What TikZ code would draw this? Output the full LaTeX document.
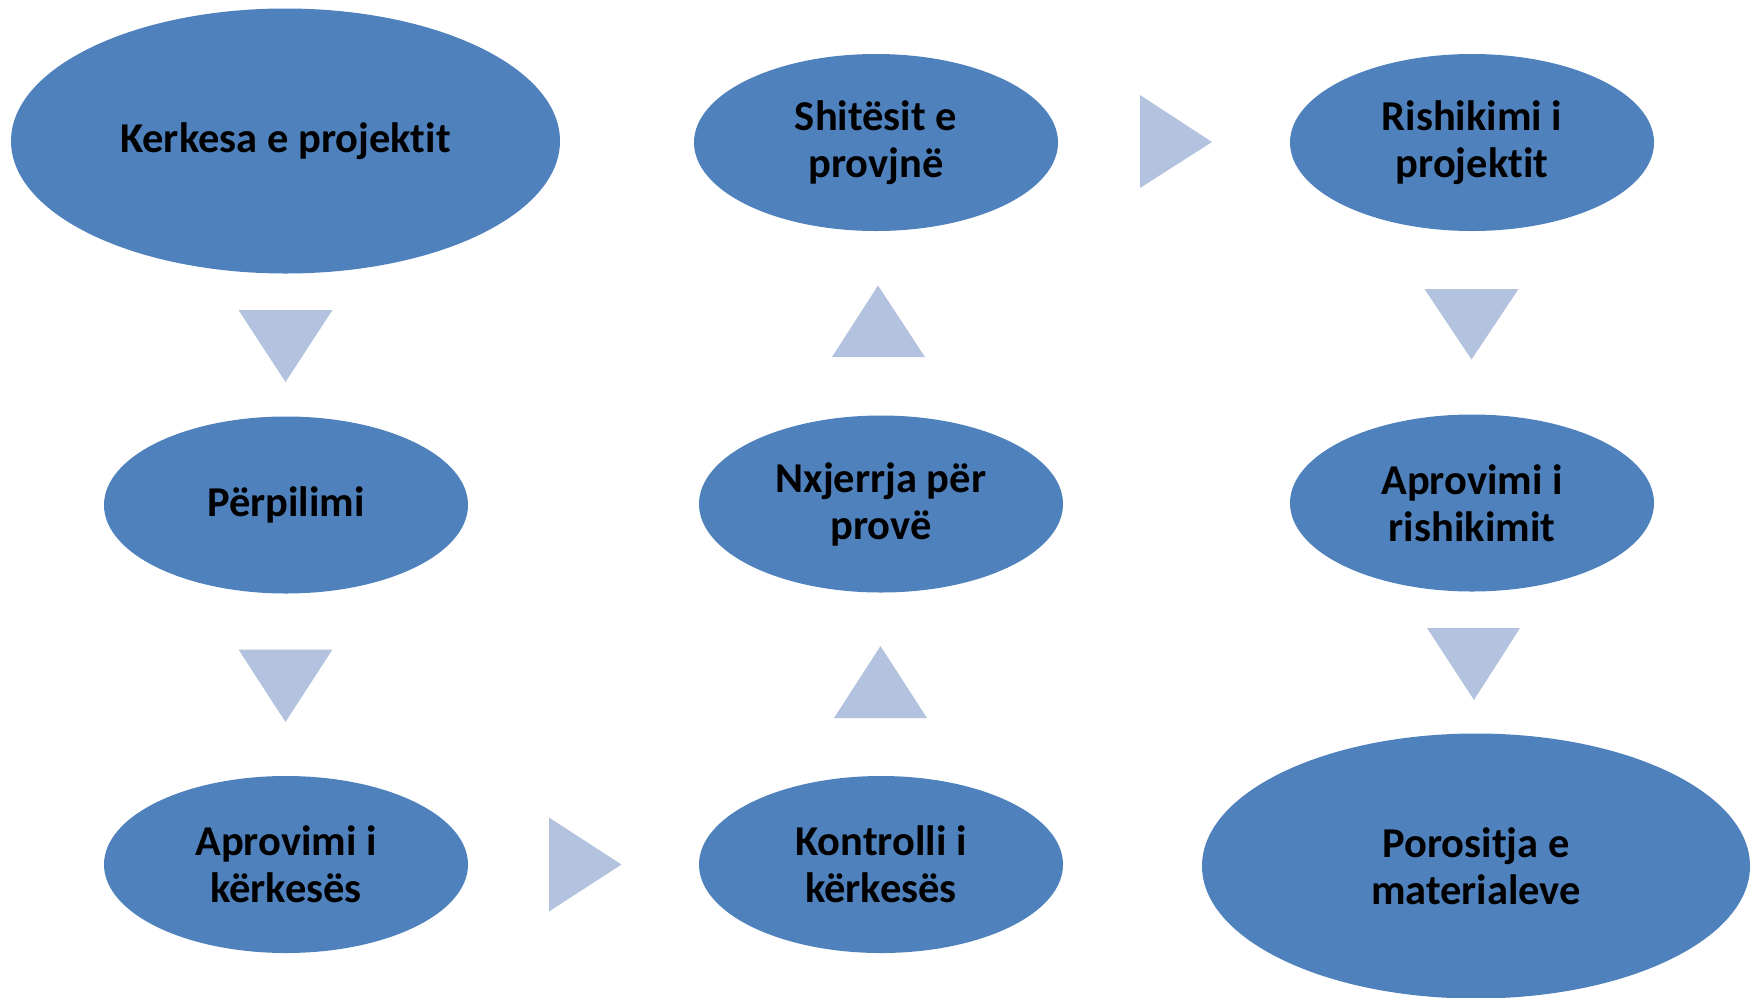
\documentclass[tikz,border=0pt]{standalone}
\usepackage{fontspec}
\setmainfont{Carlito}[Ligatures=NoCommon]
\usetikzlibrary{shapes.geometric}
\definecolor{ellblue}{RGB}{79,129,189}
\definecolor{triblue}{RGB}{179,194,222}
\begin{document}
\begin{tikzpicture}[x=1pt,y=-1pt,
  ell/.style={ellipse, fill=ellblue, inner sep=0pt, outer sep=0pt, align=center,
    font=\fontsize{42.5}{47}\selectfont\bfseries, text=black},
  tri/.style={fill=triblue}]
\useasboundingbox (0,0) rectangle (1756,997);
\begin{scope}
\clip (0,0) rectangle (1756,997);
\node[ell, minimum width=549pt, minimum height=265pt] (k) at (285.5,141) {Kerkesa e projektit};
\node[ell, minimum width=364pt, minimum height=177pt] (p) at (286,505) {Përpilimi};
\node[ell, minimum width=364pt, minimum height=177pt] (ak) at (286,864.5) {Aprovimi i\\kërkesës};
\node[ell, minimum width=364pt, minimum height=177pt] (kk) at (881,864.5) {Kontrolli i\\kërkesës};
\node[ell, minimum width=364pt, minimum height=177pt] (n) at (881,504) {Nxjerrja për\\provë};
\node[ell, minimum width=364pt, minimum height=177pt] (s) at (876,142.5) {Shitësit e\\provjnë};
\node[ell, minimum width=364pt, minimum height=177pt] (r) at (1472,142.5) {Rishikimi i\\projektit};
\node[ell, minimum width=364pt, minimum height=177pt] (ar) at (1472,503) {Aprovimi i\\rishikimit};
\node[ell, minimum width=548pt, minimum height=265pt] (m) at (1476,866) {Porositja e\\materialeve};
\end{scope}
% connectors (triangles)
\fill[tri] (238.5,310) -- (332.5,310) -- (285.5,382) -- cycle;
\fill[tri] (238.5,649.5) -- (332.5,649.5) -- (285.5,722) -- cycle;
\fill[tri] (549,817.5) -- (549,911.5) -- (621.5,864.5) -- cycle;
\fill[tri] (834,718) -- (927,718) -- (880.5,646) -- cycle;
\fill[tri] (832,357) -- (925,357) -- (878,285.5) -- cycle;
\fill[tri] (1140,95) -- (1140,188) -- (1212,142) -- cycle;
\fill[tri] (1424.5,289) -- (1518.5,289) -- (1471.5,359.5) -- cycle;
\fill[tri] (1427,628) -- (1520,628) -- (1474,700) -- cycle;
\end{tikzpicture}
\end{document}
